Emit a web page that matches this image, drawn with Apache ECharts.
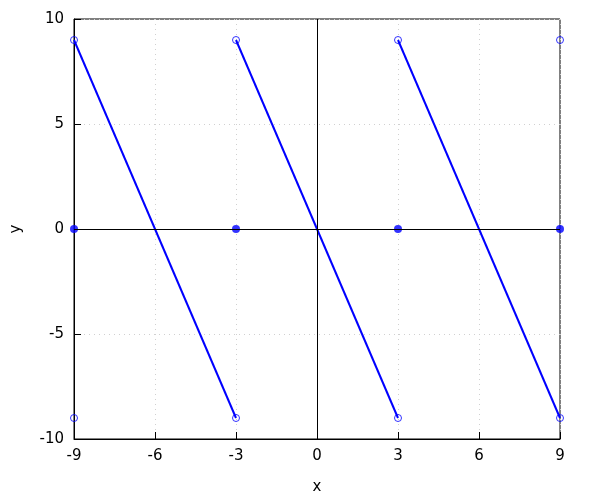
<!DOCTYPE html>
<html><head><meta charset="utf-8">
<script src="https://cdn.jsdelivr.net/npm/echarts@6/dist/echarts.min.js"></script>
<style>html,body{margin:0;padding:0;background:#fff}#c{width:600px;height:500px}</style>
</head><body><div id="c"></div>
<script>
var xTicks = [-9, -6, -3, 0, 3, 6, 9];
var yTicks = [-10, -5, 0, 5, 10];
var seg1 = [[-9, 9], [-3, -9]];
var seg2 = [[-3, 9], [3, -9]];
var seg3 = [[3, 9], [9, -9]];
var openPts = [[-9, 9], [-3, 9], [3, 9], [9, 9], [-9, -9], [-3, -9], [3, -9], [9, -9]];
var filledPts = [[-9, 0], [-3, 0], [3, 0], [9, 0]];

var font = 'DejaVu Sans, sans-serif';
var blue = '#0000ff';
function lineSeries(d) {
  return {type: 'line', data: d, symbol: 'none', lineStyle: {color: blue, width: 2}, clip: false, z: 3};
}
var chart = echarts.init(document.getElementById('c'), null, {renderer: 'canvas'});
chart.setOption({
  animation: false,
  grid: {left: 74, right: 40, top: 19, bottom: 61, show: true, borderColor: '#000', borderWidth: 1, backgroundColor: 'transparent'},
  xAxis: {
    type: 'value', min: -9, max: 9, interval: 3,
    name: 'x', nameLocation: 'middle', nameGap: 41,
    nameTextStyle: {color: '#000', fontSize: 15, fontFamily: font},
    axisLine: {show: true, onZero: false, lineStyle: {color: '#000'}},
    axisTick: {show: true, inside: true, length: 7, lineStyle: {color: '#000'}},
    axisLabel: {color: '#000', fontSize: 15, fontFamily: font, margin: 10},
    splitLine: {show: true, lineStyle: {color: '#d0d0d0', type: [1, 4], width: 1}}
  },
  yAxis: {
    type: 'value', min: -10, max: 10, interval: 5,
    name: 'y', nameLocation: 'middle', nameGap: 50,
    nameTextStyle: {color: '#000', fontSize: 15, fontFamily: font},
    axisLine: {show: true, onZero: false, lineStyle: {color: '#000'}},
    axisTick: {show: true, inside: true, length: 7, lineStyle: {color: '#000'}},
    axisLabel: {color: '#000', fontSize: 15, fontFamily: font, margin: 10},
    splitLine: {show: true, lineStyle: {color: '#d0d0d0', type: [1, 4], width: 1}}
  },
  series: [
    {
      type: 'line', data: [], symbol: 'none', silent: true,
      markLine: {
        silent: true, symbol: 'none', label: {show: false},
        lineStyle: {color: '#000', width: 1, type: 'solid'},
        data: [{xAxis: 0}, {yAxis: 0}]
      }, z: 2
    },
    lineSeries(seg1), lineSeries(seg2), lineSeries(seg3),
    {type: 'scatter', data: openPts, symbol: 'circle', symbolSize: 7, itemStyle: {color: 'rgba(0,0,0,0)', borderColor: blue, borderWidth: 1}, clip: false, z: 4},
    {type: 'scatter', data: filledPts, symbol: 'circle', symbolSize: 8, itemStyle: {color: blue}, clip: false, z: 4}
  ]
});
</script></body></html>
